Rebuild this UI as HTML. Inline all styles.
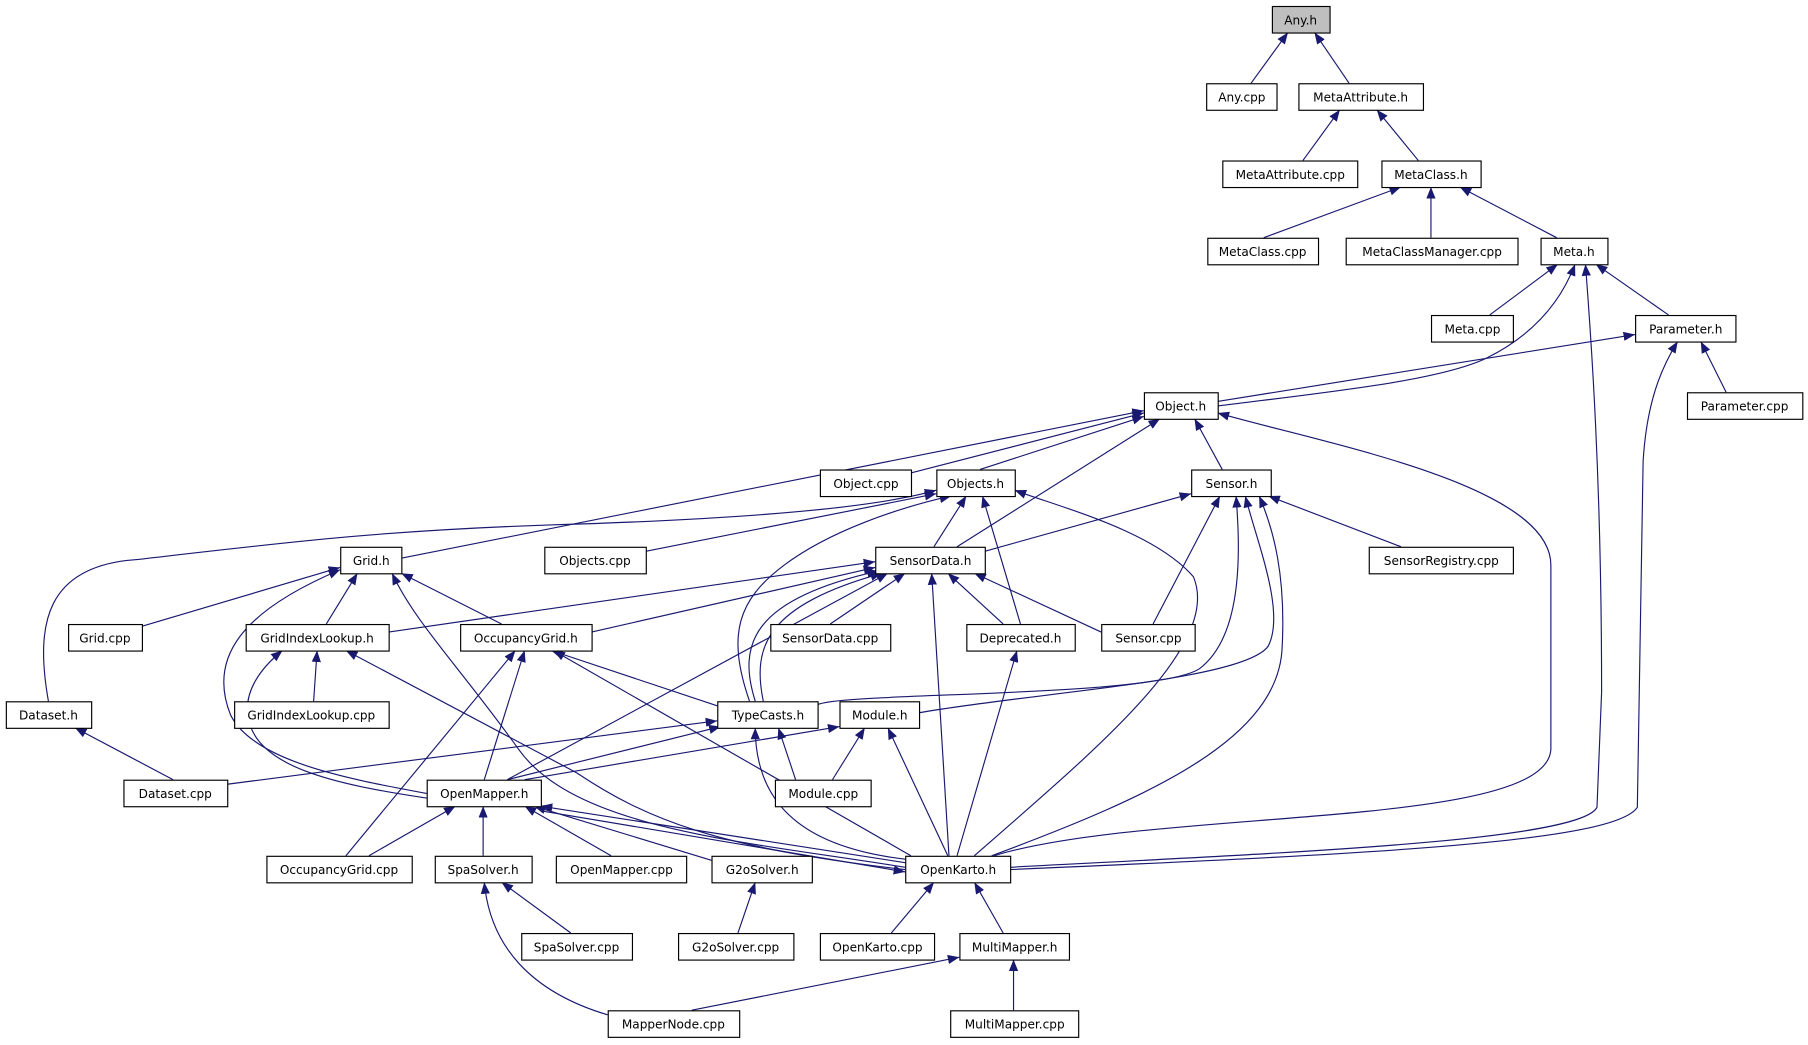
<!DOCTYPE html>
<html><head><meta charset="utf-8"><style>
html,body{margin:0;padding:0;background:#fff;}
svg{display:block;}
text{font-family:"DejaVu Sans","Liberation Sans",sans-serif;font-size:10.5px;fill:#000;}
</style></head><body>
<svg width="1808" height="1045" viewBox="0 0 1568 906" xmlns="http://www.w3.org/2000/svg">
<defs>
<marker id="a" markerWidth="10" markerHeight="8" refX="10" refY="4" orient="auto" markerUnits="userSpaceOnUse">
<path d="M0,0 L10,4 L0,8 Z" fill="#191970"/></marker>
</defs>
<g fill="none" stroke="#191970" stroke-width="1" marker-end="url(#a)">
<path d="M1085,72 L1117,28"/>
<path d="M1170,72 L1140,28"/>
<path d="M1130,139 L1162,95"/>
<path d="M1230,139 L1194,95"/>
<path d="M1096,206 L1215,162"/>
<path d="M1241,206 L1241,162"/>
<path d="M1350,206 L1266,162"/>
<path d="M1292,273 L1351,229"/>
<path d="M1447,273 L1384,229"/>
<path d="M1056,352 C1150,340 1250,330 1290,310 C1340,285 1358,250 1366,229"/>
<path d="M1056,348 L1418,290"/>
<path d="M876,752 C1100,740 1370,730 1385,700 L1389,600 C1389,400 1378,270 1375,229"/>
<path d="M1497,340 L1475,296"/>
<path d="M876,754 C1200,740 1400,730 1420,700 L1425,400 C1428,350 1440,320 1455,296"/>
<path d="M790,410 L992,358"/>
<path d="M850,407 L992,361"/>
<path d="M1060,407 L1036,363"/>
<path d="M348,484 L992,356"/>
<path d="M830,474 L1006,363"/>
<path d="M862,742 C1000,700 1340,720 1345,650 L1345,490 C1345,420 1150,385 1056,358"/>
<path d="M560,478 L812,428"/>
<path d="M42,608 C30,540 40,490 120,485 C250,470 330,460 480,455 C650,450 760,440 812,425"/>
<path d="M810,474 L838,430"/>
<path d="M885,541 L852,430"/>
<path d="M650,608 C630,550 640,520 680,490 C720,460 780,440 825,430"/>
<path d="M845,742 C950,650 1060,560 1035,500 C1000,460 920,440 880,425"/>
<path d="M854,478 L1033,428"/>
<path d="M1000,541 L1058,430"/>
<path d="M1215,474 L1100,430"/>
<path d="M709,611 C730,600 1000,605 1040,580 C1080,550 1075,470 1072,430"/>
<path d="M797,618 C900,600 1080,590 1100,560 C1115,530 1090,470 1080,430"/>
<path d="M860,742 C1000,690 1110,640 1112,560 C1115,500 1105,460 1092,430"/>
<path d="M123,543 L295,492"/>
<path d="M283,541 L310,497"/>
<path d="M435,541 L348,497"/>
<path d="M370,688 C300,675 220,660 200,620 C180,570 210,530 295,494"/>
<path d="M785,752 C650,730 500,720 450,650 C400,580 360,540 340,497"/>
<path d="M337,548 L759,487"/>
<path d="M513,548 L759,492"/>
<path d="M720,541 L785,497"/>
<path d="M870,541 L822,497"/>
<path d="M955,548 L845,497"/>
<path d="M655,608 C640,560 650,520 762,495"/>
<path d="M662,608 C652,560 665,525 765,497"/>
<path d="M440,676 L770,497"/>
<path d="M823,742 L808,497"/>
<path d="M272,608 L275,564"/>
<path d="M370,692 C290,680 220,665 215,620 C212,600 225,580 245,564"/>
<path d="M785,754 C620,735 560,710 500,670 L300,564"/>
<path d="M622,612 L478,564"/>
<path d="M300,742 L447,564"/>
<path d="M420,676 L455,564"/>
<path d="M790,742 L480,564"/>
<path d="M150,676 L65,631"/>
<path d="M197,680 L622,625"/>
<path d="M440,676 L625,630"/>
<path d="M455,676 L728,630"/>
<path d="M690,676 L675,631"/>
<path d="M785,745 C700,735 655,700 655,631"/>
<path d="M722,676 L750,631"/>
<path d="M822,742 L770,631"/>
<path d="M320,742 L395,699"/>
<path d="M419,742 L419,699"/>
<path d="M530,742 L455,699"/>
<path d="M617,746 L463,699"/>
<path d="M785,748 L469,699"/>
<path d="M469,703 L785,756"/>
<path d="M495,809 L435,765"/>
<path d="M527,880 C460,860 425,820 420,765"/>
<path d="M640,809 L655,765"/>
<path d="M773,809 L810,765"/>
<path d="M870,809 L845,765"/>
<path d="M600,876 L832,830"/>
<path d="M879,876 L879,832"/>
<path d="M830,742 L882,564"/>
</g>
<g stroke="#000" stroke-width="1" fill="#fff">
<rect x="1103.5" y="5.5" width="50" height="23" fill="#bfbfbf"/>
<rect x="1046.5" y="72.5" width="61" height="23"/>
<rect x="1126.5" y="72.5" width="108" height="23"/>
<rect x="1060.5" y="139.5" width="117" height="23"/>
<rect x="1198.5" y="139.5" width="86" height="23"/>
<rect x="1047.5" y="206.5" width="96" height="23"/>
<rect x="1167.5" y="206.5" width="149" height="23"/>
<rect x="1336.5" y="206.5" width="58" height="23"/>
<rect x="1241.5" y="273.5" width="71" height="23"/>
<rect x="1418.5" y="273.5" width="87" height="23"/>
<rect x="1463.5" y="340.5" width="100" height="23"/>
<rect x="992.5" y="340.5" width="64" height="23"/>
<rect x="711.5" y="407.5" width="79" height="23"/>
<rect x="812.5" y="407.5" width="68" height="23"/>
<rect x="1033.5" y="407.5" width="69" height="23"/>
<rect x="472.5" y="474.5" width="88" height="23"/>
<rect x="295.5" y="474.5" width="53" height="23"/>
<rect x="759.5" y="474.5" width="95" height="23"/>
<rect x="1187.5" y="474.5" width="125" height="23"/>
<rect x="59.5" y="541.5" width="64" height="23"/>
<rect x="213.5" y="541.5" width="124" height="23"/>
<rect x="399.5" y="541.5" width="114" height="23"/>
<rect x="668.5" y="541.5" width="104" height="23"/>
<rect x="838.5" y="541.5" width="94" height="23"/>
<rect x="955.5" y="541.5" width="81" height="23"/>
<rect x="5.5" y="608.5" width="74" height="23"/>
<rect x="203.5" y="608.5" width="134" height="23"/>
<rect x="622.5" y="608.5" width="87" height="23"/>
<rect x="728.5" y="608.5" width="69" height="23"/>
<rect x="107.5" y="676.5" width="90" height="23"/>
<rect x="370.5" y="676.5" width="99" height="23"/>
<rect x="672.5" y="676.5" width="83" height="23"/>
<rect x="231.5" y="742.5" width="126" height="23"/>
<rect x="377.5" y="742.5" width="84" height="23"/>
<rect x="482.5" y="742.5" width="113" height="23"/>
<rect x="617.5" y="742.5" width="87" height="23"/>
<rect x="785.5" y="742.5" width="91" height="23"/>
<rect x="711.5" y="809.5" width="99" height="23"/>
<rect x="832.5" y="809.5" width="95" height="23"/>
<rect x="452.5" y="809.5" width="96" height="23"/>
<rect x="588.5" y="809.5" width="100" height="23"/>
<rect x="527.5" y="876.5" width="114" height="23"/>
<rect x="824.5" y="876.5" width="111" height="23"/>
</g>
<g text-anchor="middle">
<text x="1128" y="21">Any.h</text>
<text x="1077" y="88">Any.cpp</text>
<text x="1180" y="88">MetaAttribute.h</text>
<text x="1119" y="155">MetaAttribute.cpp</text>
<text x="1241" y="155">MetaClass.h</text>
<text x="1095" y="222">MetaClass.cpp</text>
<text x="1242" y="222">MetaClassManager.cpp</text>
<text x="1365" y="222">Meta.h</text>
<text x="1277" y="289">Meta.cpp</text>
<text x="1462" y="289">Parameter.h</text>
<text x="1513" y="356">Parameter.cpp</text>
<text x="1024" y="356">Object.h</text>
<text x="751" y="423">Object.cpp</text>
<text x="846" y="423">Objects.h</text>
<text x="1068" y="423">Sensor.h</text>
<text x="516" y="490">Objects.cpp</text>
<text x="322" y="490">Grid.h</text>
<text x="807" y="490">SensorData.h</text>
<text x="1250" y="490">SensorRegistry.cpp</text>
<text x="91" y="557">Grid.cpp</text>
<text x="275" y="557">GridIndexLookup.h</text>
<text x="456" y="557">OccupancyGrid.h</text>
<text x="720" y="557">SensorData.cpp</text>
<text x="885" y="557">Deprecated.h</text>
<text x="996" y="557">Sensor.cpp</text>
<text x="42" y="624">Dataset.h</text>
<text x="270" y="624">GridIndexLookup.cpp</text>
<text x="666" y="624">TypeCasts.h</text>
<text x="763" y="624">Module.h</text>
<text x="152" y="692">Dataset.cpp</text>
<text x="420" y="692">OpenMapper.h</text>
<text x="714" y="692">Module.cpp</text>
<text x="294" y="758">OccupancyGrid.cpp</text>
<text x="419" y="758">SpaSolver.h</text>
<text x="539" y="758">OpenMapper.cpp</text>
<text x="661" y="758">G2oSolver.h</text>
<text x="831" y="758">OpenKarto.h</text>
<text x="761" y="825">OpenKarto.cpp</text>
<text x="880" y="825">MultiMapper.h</text>
<text x="500" y="825">SpaSolver.cpp</text>
<text x="638" y="825">G2oSolver.cpp</text>
<text x="584" y="892">MapperNode.cpp</text>
<text x="880" y="892">MultiMapper.cpp</text>
</g>
</svg>
</body></html>
